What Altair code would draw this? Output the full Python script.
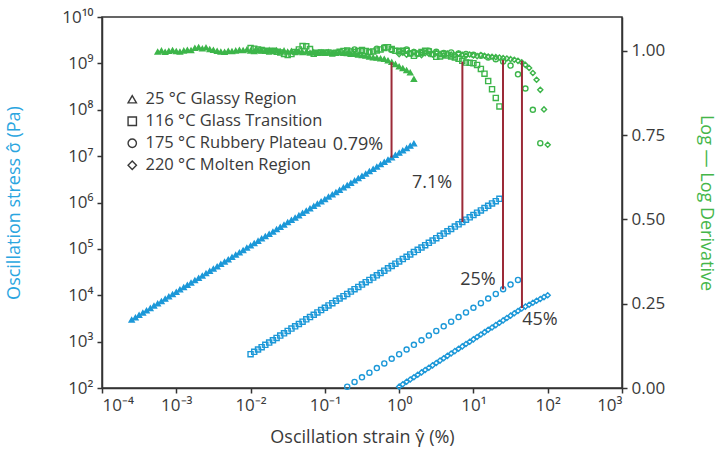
import altair as alt
import pandas as pd

FONT = "Open Sans"
BLUE = "#1c98d8"
BLUE_T = "#2aa5df"
GREEN = "#3db54a"
GREEN_T = "#45b649"
RED = "#9c2a38"
TXT = "#3a3a3a"

TEMPS = ["25 °C Glassy Region", "116 °C Glass Transition",
         "175 °C Rubbery Plateau", "220 °C Molten Region"]

# ---------------- 25 °C glassy region (triangles) ----------------
tri_strain = [2.51e-4, 2.82e-4, 3.16e-4, 3.55e-4, 3.98e-4, 4.47e-4, 5.01e-4,
              5.62e-4, 6.31e-4, 7.08e-4, 7.94e-4, 8.91e-4, 1.00e-3, 1.12e-3, 1.26e-3, 1.41e-3, 1.58e-3,
              1.78e-3, 2.00e-3, 2.24e-3, 2.51e-3, 2.82e-3, 3.16e-3, 3.55e-3, 3.98e-3, 4.47e-3, 5.01e-3,
              5.62e-3, 6.31e-3, 7.08e-3, 7.94e-3, 8.91e-3, 0.0100, 0.0112, 0.0126, 0.0141, 0.0158,
              0.0178, 0.0200, 0.0224, 0.0251, 0.0282, 0.0316, 0.0355, 0.0398, 0.0447, 0.0501,
              0.0562, 0.0631, 0.0708, 0.0794, 0.0891, 0.100, 0.112, 0.126, 0.141, 0.158,
              0.178, 0.200, 0.224, 0.251, 0.282, 0.316, 0.355, 0.398, 0.447, 0.501,
              0.562, 0.631, 0.708, 0.794, 0.891, 1.00, 1.12, 1.26, 1.41, 1.58]
tri_stress = [2.95e3, 3.31e3, 3.72e3, 4.17e3, 4.68e3, 5.25e3, 5.89e3,
              6.61e3, 7.41e3, 8.32e3, 9.33e3, 1.05e4, 1.17e4, 1.32e4, 1.48e4, 1.66e4, 1.86e4,
              2.09e4, 2.34e4, 2.63e4, 2.95e4, 3.31e4, 3.72e4, 4.17e4, 4.68e4, 5.25e4, 5.89e4,
              6.61e4, 7.41e4, 8.32e4, 9.33e4, 1.05e5, 1.17e5, 1.32e5, 1.48e5, 1.66e5, 1.86e5,
              2.09e5, 2.34e5, 2.63e5, 2.95e5, 3.31e5, 3.72e5, 4.17e5, 4.68e5, 5.25e5, 5.89e5,
              6.61e5, 7.41e5, 8.32e5, 9.33e5, 1.05e6, 1.17e6, 1.32e6, 1.48e6, 1.66e6, 1.86e6,
              2.09e6, 2.34e6, 2.63e6, 2.95e6, 3.31e6, 3.72e6, 4.17e6, 4.68e6, 5.25e6, 5.89e6,
              6.61e6, 7.41e6, 8.32e6, 9.33e6, 1.05e7, 1.17e7, 1.32e7, 1.48e7, 1.66e7, 1.86e7]
# derivative starts later than the stress sweep
tri_d_strain = tri_strain[7:]
tri_deriv = [0.997, 1.000, 0.996, 0.999, 1.001, 0.998, 0.997, 1.000, 1.002, 1.001,
             1.008, 1.010, 1.006, 1.009, 1.004, 1.002, 0.999, 0.997, 0.996, 0.999,
             0.998, 1.000, 1.002, 1.001, 1.003, 1.000, 0.998, 1.001, 1.000, 0.999,
             1.002, 0.999, 1.001, 0.998, 1.000, 0.997, 0.999, 0.996, 0.998, 0.995,
             0.997, 0.994, 0.996, 0.993, 0.995, 0.994, 0.996, 0.993, 0.994, 0.995,
             0.993, 0.992, 0.990, 0.990, 0.988, 0.986, 0.985, 0.982, 0.980, 0.979,
             0.977, 0.975, 0.971, 0.966, 0.960, 0.953, 0.948, 0.942, 0.935, 0.916]

# ---------------- 116 °C glass transition (squares) ----------------
sq_strain = [0.0100, 0.0112, 0.0126, 0.0141, 0.0158, 0.0178, 0.0200, 0.0224, 0.0251, 0.0282,
             0.0316, 0.0355, 0.0398, 0.0447, 0.0501, 0.0562, 0.0631, 0.0708, 0.0794, 0.0891,
             0.100, 0.112, 0.126, 0.141, 0.158, 0.178, 0.200, 0.224, 0.251, 0.282,
             0.316, 0.355, 0.398, 0.447, 0.501, 0.562, 0.631, 0.708, 0.794, 0.891,
             1.00, 1.12, 1.26, 1.41, 1.58, 1.78, 2.00, 2.24, 2.51, 2.82,
             3.16, 3.55, 3.98, 4.47, 5.01, 5.62, 6.31, 7.08, 7.94, 8.91,
             10.0, 11.2, 12.6, 14.1, 15.8, 17.8, 20.0, 22.4]
sq_stress = [5.37e2, 6.03e2, 6.76e2, 7.59e2, 8.51e2, 9.55e2, 1.07e3, 1.20e3, 1.35e3, 1.51e3,
             1.70e3, 1.91e3, 2.14e3, 2.40e3, 2.69e3, 3.02e3, 3.39e3, 3.80e3, 4.27e3, 4.79e3,
             5.37e3, 6.03e3, 6.76e3, 7.59e3, 8.51e3, 9.55e3, 1.07e4, 1.20e4, 1.35e4, 1.51e4,
             1.70e4, 1.91e4, 2.14e4, 2.40e4, 2.69e4, 3.02e4, 3.39e4, 3.80e4, 4.27e4, 4.79e4,
             5.37e4, 6.03e4, 6.76e4, 7.59e4, 8.51e4, 9.55e4, 1.07e5, 1.20e5, 1.35e5, 1.51e5,
             1.70e5, 1.91e5, 2.14e5, 2.40e5, 2.69e5, 3.02e5, 3.39e5, 3.80e5, 4.27e5, 4.79e5,
             5.37e5, 6.03e5, 6.76e5, 7.59e5, 8.51e5, 9.55e5, 1.07e6, 1.20e6]
sq_deriv = [1.008, 1.006, 1.004, 1.002, 1.000, 0.998, 1.000, 0.997, 0.995, 0.990,
            0.987, 0.990, 0.996, 1.004, 1.014, 1.013, 1.005, 0.991, 0.994, 0.995,
            0.994, 0.995, 0.992, 0.994, 0.997, 0.999, 1.001, 0.998, 0.996, 0.999,
            1.002, 0.999, 0.996, 0.998, 1.001, 1.004, 1.008, 1.010, 1.005, 1.000,
            0.999, 1.000, 1.000, 0.992, 0.985, 0.992, 0.996, 1.000, 0.998, 0.990,
            0.982, 0.983, 0.990, 0.986, 0.983, 0.980, 0.976, 0.970, 0.965, 0.964,
            0.963, 0.958, 0.946, 0.932, 0.910, 0.886, 0.860, 0.835]

# ---------------- 175 °C rubbery plateau (circles) ----------------
circ_strain = [0.200, 0.251, 0.316, 0.398, 0.501, 0.631, 0.794, 1.00, 1.26, 1.58,
               2.00, 2.51, 3.16, 3.98, 5.01, 6.31, 7.94, 10.0, 12.6, 15.8,
               20.0, 25.1, 31.6, 39.8, 50.1, 63.1, 79.4]
circ_stress = [107, 135, 170, 214, 269, 339, 427, 537, 676, 851,
               1070, 1350, 1700, 2140, 2690, 3390, 4270, 5370, 6760, 8510,
               1.07e4, 1.35e4, 1.70e4, 2.14e4]
circ_deriv = [0.998, 1.004, 1.000, 0.996, 1.006, 1.010, 1.002, 0.998, 1.004, 0.996,
              0.993, 1.000, 0.997, 0.993, 0.995, 0.992, 0.990, 0.988, 0.985, 0.980,
              0.975, 0.968, 0.956, 0.930, 0.888, 0.825, 0.726]

# ---------------- 220 °C molten region (diamonds) ----------------
dia_strain = [1.00, 1.12, 1.26, 1.41, 1.58, 1.78, 2.00, 2.24, 2.51, 2.82,
              3.16, 3.55, 3.98, 4.47, 5.01, 5.62, 6.31, 7.08, 7.94, 8.91,
              10.0, 11.2, 12.6, 14.1, 15.8, 17.8, 20.0, 22.4, 25.1, 28.2,
              31.6, 35.5, 39.8, 44.7, 50.1, 56.2, 63.1, 70.8, 79.4, 89.1, 100.0]
dia_stress = [107, 120, 136, 152, 171, 193, 217, 244, 274, 308,
              347, 390, 439, 493, 555, 624, 702, 789, 887, 998,
              1120, 1260, 1420, 1600, 1800, 2020, 2270, 2550, 2870, 3230,
              3630, 4080, 4590, 5160, 5690, 6240, 6920, 7590, 8320, 9120, 10000]
dia_deriv = [0.990, 0.994, 0.988, 0.992, 0.996, 0.990, 0.987, 0.993, 0.991, 0.989,
             0.994, 0.990, 0.986, 0.992, 0.989, 0.987, 0.991, 0.988, 0.985, 0.989,
             0.986, 0.984, 0.987, 0.985, 0.983, 0.982, 0.981, 0.980, 0.978, 0.977,
             0.975, 0.973, 0.970, 0.966, 0.958, 0.949, 0.934, 0.914, 0.884, 0.826, 0.721]

# ---------------- annotations ----------------
mark_strain = [0.79, 7.1, 25.0, 45.0]
mark_top = [1.06e9, 1.09e9, 1.18e9, 1.14e9]      # read on the stress axis
mark_bottom = [9.3e6, 3.8e5, 1.34e4, 5.3e3]
label_text = ["0.79%", "7.1%", "25%", "45%"]
label_strain = [0.279, 2.77, 11.5, 78.7]
label_stress = [1.74e7, 2.63e6, 2.14e4, 2.93e3]

series_s = [(TEMPS[0], tri_strain, tri_stress), (TEMPS[1], sq_strain, sq_stress),
            (TEMPS[2], circ_strain, circ_stress), (TEMPS[3], dia_strain, dia_stress)]
series_d = [(TEMPS[0], tri_d_strain, tri_deriv), (TEMPS[1], sq_strain, sq_deriv),
            (TEMPS[2], circ_strain, circ_deriv), (TEMPS[3], dia_strain, dia_deriv)]

s_rows, d_rows = [], []
for name, xs, ss in series_s:
    for x, s in zip(xs, ss):
        s_rows.append({"strain": x, "stress": s, "temp": name})
for name, xs, ds in series_d:
    for x, d in zip(xs, ds):
        d_rows.append({"strain": x, "deriv": d, "temp": name})
stress_df = pd.DataFrame(s_rows)
deriv_df = pd.DataFrame(d_rows)
rule_df = pd.DataFrame({"strain": mark_strain, "stress": mark_top, "stress2": mark_bottom})
label_df = pd.DataFrame({"strain": label_strain, "stress": label_stress, "label": label_text})

SUP = "['⁰','¹','²','³','⁴','⁵','⁶','⁷','⁸','⁹','¹⁰']"
EXP = "round(log(datum.value)/LN10)"
POW_LABEL = f"'10' + ({EXP} < 0 ? '⁻' : '') + {SUP}[abs({EXP})]"

x_scale = alt.Scale(type="log", domain=[1e-4, 1e3], nice=False)
x_axis = alt.Axis(values=[1e-4, 1e-3, 1e-2, 1e-1, 1, 10, 100, 1000], labelExpr=POW_LABEL,
                  title="Oscillation strain γ̂ (%)", titleX=260, titleY=49,
                  titleBaseline="middle", titleAlign="center", labelPadding=4,
                  titleColor=TXT)
x_enc = alt.X("strain:Q", scale=x_scale, axis=x_axis)

y_scale = alt.Scale(type="log", domain=[1e2, 1e10], nice=False)
y_axis = alt.Axis(orient="left", values=[10.0 ** k for k in range(2, 11)], labelExpr=POW_LABEL,
                  title="Oscillation stress σ̂ (Pa)", titleColor=BLUE_T, titleX=-88, titleY=185.5,
                  titleAngle=270, titleBaseline="middle", titleAlign="center", labelPadding=4)
y_enc = alt.Y("stress:Q", scale=y_scale, axis=y_axis)

d_scale = alt.Scale(domain=[0, 1.1], nice=False, zero=False)
d_axis = alt.Axis(orient="right", values=[0, 0.25, 0.5, 0.75, 1.0], format=".2f",
                  title="Log — Log Derivative", titleColor=GREEN_T, titleX=83, titleY=185.5,
                  titleAngle=90, titleBaseline="middle", titleAlign="center", labelPadding=4)

shape_scale = alt.Scale(domain=TEMPS, range=["triangle-up", "square", "circle", "diamond"])
legend = alt.Legend(orient="none", legendX=22, legendY=74, title=None, labelFont=FONT,
                    labelFontSize=16.5, labelColor=TXT, symbolStrokeColor=TXT,
                    symbolFillColor="white", symbolSize=70, symbolStrokeWidth=1.4,
                    rowPadding=5, labelOffset=5, padding=0, labelLimit=300)
shape_enc = alt.Shape("temp:N", scale=shape_scale, legend=legend, sort=TEMPS)

green = alt.Chart(deriv_df).mark_point(filled=False, size=26, strokeWidth=1.4, color=GREEN,
                                       opacity=1).encode(
    x=x_enc,
    y=alt.Y("deriv:Q", scale=d_scale, axis=d_axis),
    shape=shape_enc,
    fill=alt.condition(alt.datum.temp == TEMPS[0], alt.value(GREEN), alt.value("transparent")),
)

blue = alt.Chart(stress_df).mark_point(filled=False, size=26, strokeWidth=1.4, color=BLUE,
                                       opacity=1).encode(
    x=x_enc, y=y_enc,
    shape=shape_enc,
    fill=alt.condition(alt.datum.temp == TEMPS[0], alt.value(BLUE), alt.value("transparent")),
)

rules = alt.Chart(rule_df).mark_rule(color=RED, strokeWidth=2).encode(
    x=x_enc, y=y_enc, y2="stress2:Q")

labels = alt.Chart(label_df).mark_text(font=FONT, fontSize=18, color=TXT,
                                       align="center", baseline="middle").encode(
    x=x_enc, y=y_enc, text="label:N")

chart = alt.layer(green, alt.layer(blue, rules, labels)).resolve_scale(y="independent").properties(
    width=520, height=371,
    autosize=alt.AutoSizeParams(type="none"),
    padding={"left": 102, "top": 17, "right": 103, "bottom": 68},
).configure_view(stroke="#333333", strokeWidth=1.5).configure_axis(
    labelFont=FONT, titleFont=FONT, labelFontSize=17, titleFontSize=18,
    titleFontWeight="normal", labelColor=TXT, domainColor="#333333", tickColor="#333333",
    domainWidth=1.5, tickWidth=1.5, tickSize=5, grid=False,
)

chart.save("out.html", embed_options={"renderer": "svg", "actions": False})
